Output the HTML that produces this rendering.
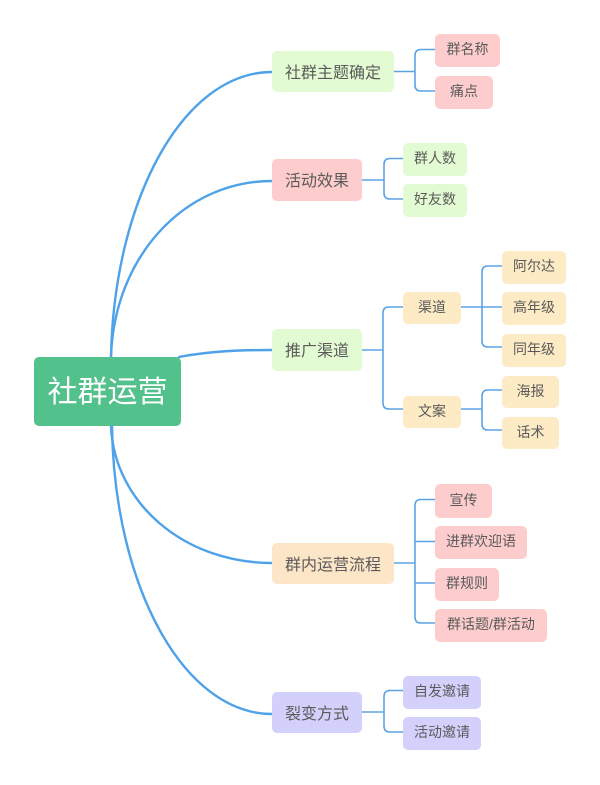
<!DOCTYPE html>
<html>
<head>
<meta charset="utf-8">
<style>
  html,body{margin:0;padding:0;background:#fff;}
  body{width:600px;height:785px;position:relative;overflow:hidden;
       font-family:"Liberation Sans","Noto Sans CJK SC",sans-serif;}
  svg{position:absolute;left:0;top:0;}
  .n{position:absolute;box-sizing:border-box;border-radius:5px;color:#5a5a5a;
     text-align:center;white-space:nowrap;display:flex;align-items:center;justify-content:center;}
  .l1{font-size:16px;padding-bottom:2px;}
  .l2{font-size:14px;padding-bottom:3px;}
  .g{background:#e3fbd2;}
  .p{background:#fdcdcd;}
  .y{background:#fdebc6;}
  .o{background:#fde5c8;}
  .v{background:#d3d1fb;}
  .root{background:#53c18b;color:#fff;font-size:30px;padding-bottom:6px;border-radius:5px;}
</style>
</head>
<body>
<svg width="600" height="785" viewBox="0 0 600 785">
  <g fill="none" stroke="#4ea2ea" stroke-width="2.4" stroke-linecap="round">
    <path d="M111,357 C114,200 183,72 272,72"/>
    <path d="M111,357 C114,258 183,181 272,181"/>
    <path d="M179,357 C210,351 240,350 272,350"/>
    <path d="M111,426 C114,502 183,563 272,563"/>
    <path d="M112,426 C114,585 183,714 272,714"/>
  </g>
  <g fill="none" stroke="#5ba3e6" stroke-width="1.6">
    <!-- A -->
    <path d="M394,71.5 H415"/>
    <path d="M435,49.5 H421 Q415,49.5 415,55.5 V85 Q415,91 421,91 H435"/>
    <!-- B -->
    <path d="M362,180 H384"/>
    <path d="M403,158.5 H390 Q384,158.5 384,164.5 V193 Q384,199 390,199 H403"/>
    <!-- C -->
    <path d="M362,350 H383"/>
    <path d="M403,307 H389 Q383,307 383,313 V403 Q383,409 389,409 H403"/>
    <!-- 渠道 -->
    <path d="M461,307 H502"/>
    <path d="M502,266 H488 Q482,266 482,272 V341 Q482,347 488,347 H502"/>
    <!-- 文案 -->
    <path d="M461,409 H482"/>
    <path d="M502,390 H488 Q482,390 482,396 V424 Q482,430 488,430 H502"/>
    <!-- D -->
    <path d="M394,563 H415"/>
    <path d="M435,499.5 H421 Q415,499.5 415,505.5 V617 Q415,623 421,623 H435"/>
    <path d="M415,541.5 H435"/>
    <path d="M415,583 H435"/>
    <!-- E -->
    <path d="M362,712 H384"/>
    <path d="M403,690.5 H390 Q384,690.5 384,696.5 V726 Q384,732 390,732 H403"/>
  </g>
</svg>

<div class="n root" style="left:34px;top:357px;width:147px;height:69px;">社群运营</div>

<div class="n l1 g" style="left:272px;top:51px;width:122px;height:41px;">社群主题确定</div>
<div class="n l1 p" style="left:272px;top:159px;width:90px;height:42px;">活动效果</div>
<div class="n l1 g" style="left:272px;top:329px;width:90px;height:42px;">推广渠道</div>
<div class="n l1 o" style="left:272px;top:543px;width:122px;height:41px;">群内运营流程</div>
<div class="n l1 v" style="left:272px;top:692px;width:90px;height:41px;">裂变方式</div>

<div class="n l2 p" style="left:435px;top:34px;width:65px;height:33px;">群名称</div>
<div class="n l2 p" style="left:435px;top:76px;width:58px;height:33px;">痛点</div>

<div class="n l2 g" style="left:403px;top:143px;width:64px;height:33px;">群人数</div>
<div class="n l2 g" style="left:403px;top:184px;width:64px;height:33px;">好友数</div>

<div class="n l2 y" style="left:403px;top:292px;width:58px;height:32px;">渠道</div>
<div class="n l2 y" style="left:403px;top:396px;width:58px;height:32px;">文案</div>

<div class="n l2 y" style="left:502px;top:251px;width:64px;height:33px;">阿尔达</div>
<div class="n l2 y" style="left:502px;top:292px;width:64px;height:33px;">高年级</div>
<div class="n l2 y" style="left:502px;top:334px;width:64px;height:33px;">同年级</div>
<div class="n l2 y" style="left:502px;top:376px;width:57px;height:32px;">海报</div>
<div class="n l2 y" style="left:502px;top:417px;width:57px;height:32px;">话术</div>

<div class="n l2 p" style="left:435px;top:484px;width:57px;height:34px;">宣传</div>
<div class="n l2 p" style="left:435px;top:526px;width:92px;height:33px;">进群欢迎语</div>
<div class="n l2 p" style="left:435px;top:568px;width:64px;height:33px;">群规则</div>
<div class="n l2 p" style="left:435px;top:609px;width:112px;height:33px;">群话题/群活动</div>

<div class="n l2 v" style="left:403px;top:676px;width:78px;height:33px;">自发邀请</div>
<div class="n l2 v" style="left:403px;top:717px;width:78px;height:33px;">活动邀请</div>
</body>
</html>
